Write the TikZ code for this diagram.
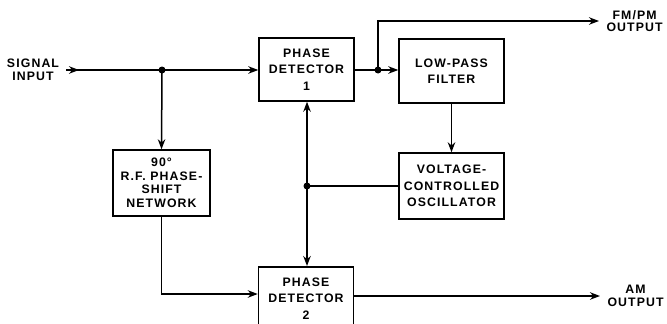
\documentclass[tikz,border=0pt]{standalone}
\usepackage{fontspec}
\setsansfont{Liberation Sans}[LetterSpace=9]
\usepackage{tikz}
\usetikzlibrary{arrows.meta}
\usepackage{xcolor}

\tikzset{
  blk/.style={draw, line width=1.5pt, align=center, font=\sffamily\bfseries\fontsize{12.3}{16.5}\selectfont},
  lbl/.style={align=center, font=\sffamily\bfseries\fontsize{12.3}{12.5}\selectfont},
  wire/.style={line width=1.5pt, -{Stealth[length=10pt,width=7.5pt]}},
  junc/.style={circle, fill, inner sep=0pt, minimum size=7pt}
}

\begin{document}
\begin{tikzpicture}[x=1pt, y=-1pt]
\clip (0, 0) rectangle (667, 324);
\useasboundingbox (0, 0) rectangle (667, 324);
% blocks
\node[blk, minimum width=95pt, minimum height=63pt] (pd1) at (306.5, 69.5) {PHASE\\DETECTOR\\1};
\node[blk, minimum width=105pt, minimum height=64pt] (lpf) at (451.5, 71) {LOW-PASS\\FILTER};
\node[blk, minimum width=105pt, minimum height=66pt] (vco) at (451.5, 186) {VOLTAGE-\\CONTROLLED\\OSCILLATOR};
\node[blk, minimum width=97pt, minimum height=66pt, inner sep=1pt] (shift) at (161.5, 183) {90°\\[-3pt]R.F. PHASE-\\[-3pt]SHIFT\\[-3pt]NETWORK};
\node[blk, minimum width=95pt, minimum height=63pt, anchor=north] (pd2) at (306, 266) {PHASE\\DETECTOR\\2};
% labels
\node[lbl] (sig) at (33, 70) {SIGNAL\\INPUT};
\node[lbl, anchor=west] (fmpm) at (603, 21) {FM/PM\\OUTPUT};
\node[lbl, anchor=west] (am) at (604, 296) {AM\\OUTPUT};
% junctions
\node[junc] (j1) at (162, 70) {};
\node[junc] (j2) at (378, 70) {};
\node[junc] (j3) at (307, 186) {};
\coordinate (sigin) at (66, 70);
\coordinate (fmend) at (599, 21);
\coordinate (amend) at (600, 296);
% connectors
\draw[wire] (sigin) -- ++(13, 0);
\draw[wire] (sigin) -- (pd1.west |- sigin);
\draw[wire] (j1.center) -- (shift.north);
\draw[wire] (shift.south) |- (pd2.west |- 0, 294);
\draw[wire] (pd1.east |- j2) -- (lpf.west |- j2);
\draw[wire] (j2.center) |- (fmend);
\draw[wire] (lpf.south) -- (vco.north);
\draw[line width=1.5pt] (vco.west |- j3) -- (j3.center);
\draw[wire] (j3.center) -- (pd1.south -| j3);
\draw[wire] (j3.center) -- (pd2.north -| j3);
\draw[wire] (pd2.east |- amend) -- (amend);
\end{tikzpicture}
\end{document}
